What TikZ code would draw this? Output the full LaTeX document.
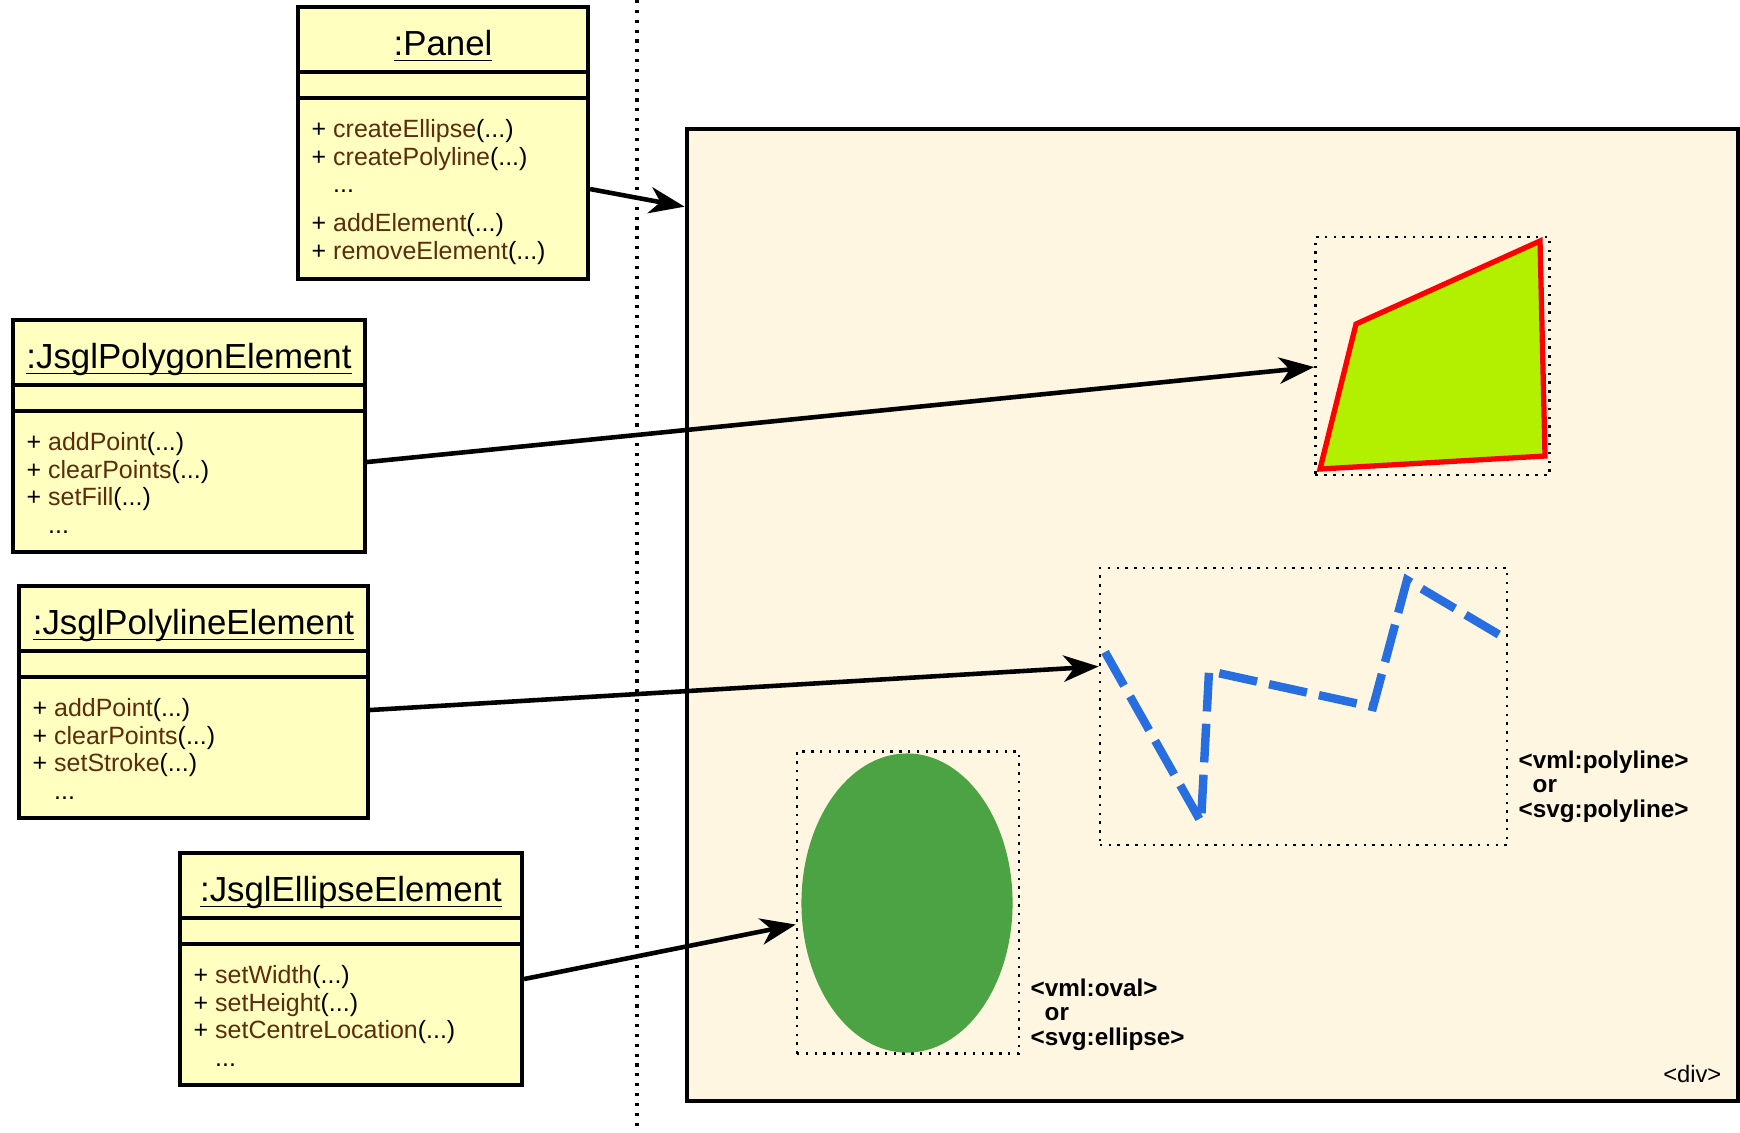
\documentclass[tikz,border=0pt]{standalone}
\usepackage{fontspec}
\setmainfont{Liberation Sans}
\usepackage{xcolor}
\usepackage{tikz}
\usetikzlibrary{arrows.meta}
\definecolor{umlyellow}{HTML}{FFFFC0}
\definecolor{divcream}{HTML}{FEF6E0}
\definecolor{opbrown}{HTML}{5C2C0C}
\definecolor{polylime}{HTML}{B2F000}
\definecolor{ovalgreen}{HTML}{4BA343}
\definecolor{lineblue}{HTML}{276FE0}
\newcommand\umlop[1]{+ \textcolor{opbrown}{#1}(...)}
\newcommand\umltitle[1]{\underline{\smash{#1}}}
\tikzset{
  umlbox/.style = {draw=black, fill=umlyellow, line width=1.1pt, inner sep=0pt},% objet uml
  umlname/.style = {inner sep=0pt, font=\fontsize{9.9pt}{11pt}\selectfont},
  umlops/.style = {anchor=north west, align=left, inner sep=0pt,
    font=\fontsize{7.1pt}{7.9pt}\selectfont},
  umlsep/.style = {line width=1.1pt},
  divbox/.style = {draw=black, fill=divcream, line width=1.2pt, inner sep=0pt},
  shapebox/.style = {draw=black, line width=0.7pt, dash pattern=on 0.7pt off 1.8pt,
    inner sep=0pt},% cadre pointille
  tag/.style = {anchor=north west, align=left, inner sep=0pt,
    font=\fontsize{6.9pt}{7pt}\selectfont\bfseries},
  link/.style = {-{Stealth[length=10pt,width=7.5pt,inset=3pt]}, line width=1.3pt}
}

\begin{document}
\begin{tikzpicture}[x=0.01cm,y=-0.01cm]
\useasboundingbox (0,0) rectangle (1740,1132);
\node [divbox, minimum width=10.51cm, minimum height=9.72cm] (div) at (1212.5,615) {};
\node [shapebox, minimum width=2.34cm, minimum height=2.38cm] (polyshape) at (1432.5,356) {};
\node [shapebox, minimum width=4.07cm, minimum height=2.77cm] (lineshape) at (1303.5,706.5) {};
\node [shapebox, minimum width=2.22cm, minimum height=3.02cm] (ovalshape) at (908,902.5) {};
\filldraw [fill=polylime, draw=red, line width=1.5pt] (1320,469) -- (1356,324) -- (1540,241) -- (1545,456) -- cycle;
\draw [lineblue, line width=2.4pt, dash pattern=on 11pt off 3.5pt] (1105,652) -- (1201,822) -- (1209,671) -- (1373,707) -- (1407,580) -- (1503,637);
\fill [ovalgreen] (907,903) ellipse [x radius=1.055cm, y radius=1.495cm];
\node [tag] (linetag) at (1518,750) {<vml:polyline>\\\hspace*{0.14cm}or\\<svg:polyline>};
\node [tag] (ovaltag) at (1030,978) {<vml:oval>\\\hspace*{0.14cm}or\\<svg:ellipse>};
\node [anchor=base east, inner sep=0pt, font=\fontsize{6.75pt}{7pt}\selectfont] (divtag) at (1722,1082) {<div>};

\draw [line width=0.9pt, dash pattern=on 0.9pt off 1.9pt] (637,0) -- (637,1132);

\node [umlbox, minimum width=2.9cm, minimum height=2.72cm] (panel) at (443,143) {};
\node [umlbox, minimum width=3.52cm, minimum height=2.32cm] (polygon) at (189,436) {};
\node [umlbox, minimum width=3.49cm, minimum height=2.32cm] (polyline) at (193.5,702) {};
\node [umlbox, minimum width=3.42cm, minimum height=2.32cm] (ellipse) at (351,969) {};
\foreach \b in {panel,polygon,polyline,ellipse}{
  \draw [umlsep] ([yshift=-0.67cm]\b.north west) -- ([yshift=-0.67cm]\b.north east);
  \draw [umlsep] ([yshift=-0.93cm]\b.north west) -- ([yshift=-0.93cm]\b.north east);
}
\node [umlname] (panelname) at ([yshift=-0.54cm]panel.north) {\umltitle{:Panel}};
\node [umlname] (polygonname) at ([yshift=-0.54cm]polygon.north) {\umltitle{:JsglPolygonElement}};
\node [umlname] (polylinename) at ([yshift=-0.54cm]polyline.north) {\umltitle{:JsglPolylineElement}};
\node [umlname] (ellipsename) at ([yshift=-0.54cm]ellipse.north) {\umltitle{:JsglEllipseElement}};
\node [umlops] (panelops) at ([xshift=0.15cm,yshift=-1.135cm]panel.north west)
  {\umlop{createEllipse}\\ \umlop{createPolyline}\\ \phantom{+ }...\\[3pt] \umlop{addElement}\\ \umlop{removeElement}};
\node [umlops] (polygonops) at ([xshift=0.15cm,yshift=-1.135cm]polygon.north west)
  {\umlop{addPoint}\\ \umlop{clearPoints}\\ \umlop{setFill}\\ \phantom{+ }...};
\node [umlops] (polylineops) at ([xshift=0.15cm,yshift=-1.135cm]polyline.north west)
  {\umlop{addPoint}\\ \umlop{clearPoints}\\ \umlop{setStroke}\\ \phantom{+ }...};
\node [umlops] (ellipseops) at ([xshift=0.15cm,yshift=-1.135cm]ellipse.north west)
  {\umlop{setWidth}\\ \umlop{setHeight}\\ \umlop{setCentreLocation}\\ \phantom{+ }...};

\draw [link] ([yshift=-0.46cm]panel.east) -- ([yshift=-0.8cm]div.north west);
\draw [link] ([yshift=-0.26cm]polygon.east) -- ([yshift=-0.11cm]polyshape.west);
\draw [link] ([yshift=-0.08cm]polyline.east) -- ([yshift=0.4cm]lineshape.west);
\draw [link] ([yshift=-0.1cm]ellipse.east) -- ([yshift=-0.22cm]ovalshape.west);
\end{tikzpicture}
\end{document}
